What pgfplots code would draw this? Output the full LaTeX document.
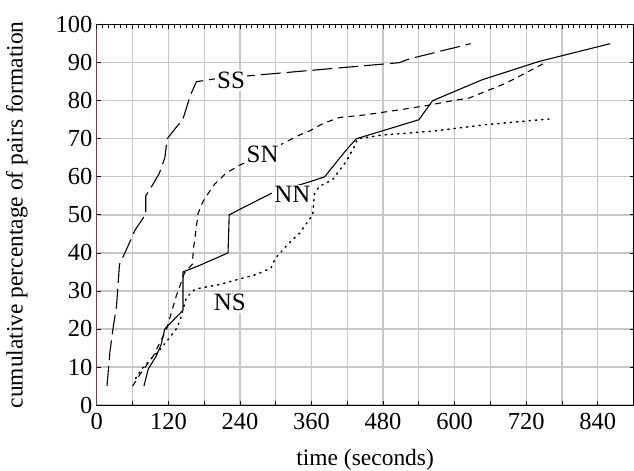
\documentclass[border=0pt]{standalone}
\usepackage{fontspec}
\setmainfont{Liberation Serif}
\usepackage{pgfplots}
\pgfplotsset{compat=1.18}
\usepackage{pgfplotstable}

\pgfplotstableread{
x y
17 5
22 14
27 20
33 26
38 37
50 41
64 46
79 49.5
82 50
82 55
94 58
105 61
114 65
118 70
133 73
144 75
157 81.5
167 85
200 85.8
360 88
507 90
524 91
627 95
}\SS

\pgfplotstableread{
x y
60 5
72 8
95 13
117 20
133 28.6
147 34.7
160 37
162 41
167 47
170 50.5
178 53.5
184 55
197 58
217 61
239 63
278 66
315 69
340 71
356 72
379 74
407 75.6
451 76.3
507 77.6
552 78.7
596 80
624 80.7
686 84.6
752 90
}\SN

\pgfplotstableread{
x y
79 5
86 9.4
100 13
108 16
114 20
143 24.7
144.5 25
144.5 35
172 36.7
220 40
222 50
239 51.4
292 55.6
359 58.8
382 60
418 67
435 70
540 75
563 80
646 85.5
741 90.3
861 95
}\NN

\pgfplotstableread{
x y
65 7
76 9.6
87 11.5
108 15
122 17.7
133 20
139 22
150 28.2
164 30.4
175 30.8
206 31.7
236 33
267 34.3
292 36
300 38.7
320 42.2
340 45.2
354 48.3
362 50
365 55.5
373 57.5
395 59.2
418 64
432 68
437 70
479 71
563 72
652 73.7
758 75.2
}\NS

\begin{document}
\begin{tikzpicture}
\begin{axis}[
  scale only axis,
  width=537.5pt, height=381pt,
  xmin=0, xmax=900, ymin=0, ymax=100,
  xtick={0,60,...,840},
  xticklabels={0,,120,,240,,360,,480,,600,,720,,840},
  ytick={0,10,...,100},
  grid=major,
  major grid style={draw=black!22, line width=1.3pt},
  axis line style={black, line width=1.1pt},
  tick style={black, line width=0.8pt},
  major tick length=4pt,
  tick align=inside,
  /pgf/number format/assume math mode=true,
  tick label style={font=\fontsize{24.5}{26}\selectfont},
  xticklabel style={yshift=-5pt},
  yticklabel style={xshift=-1pt},
  xlabel={time (seconds)},
  ylabel={cumulative percentage of pairs formation},
  every axis x label/.style={at={([yshift=-55pt]axis description cs:0.5,0)}, anchor=center, font=\fontsize{23.5}{25}\selectfont},
  every axis y label/.style={at={([xshift=-80pt]axis description cs:0,0.5)}, anchor=center, rotate=90, font=\fontsize{23.5}{25}\selectfont},
  clip=false,
]
\addplot[black, line width=1.1pt, dash pattern=on 20pt off 6pt] table {\SS};
\addplot[black, line width=1.1pt, dash pattern=on 6pt off 5pt] table {\SN};
\addplot[black, line width=1.1pt] table {\NN};
\addplot[black, line width=1.5pt, dash pattern=on 1.3pt off 5pt, line cap=round] table {\NS};
\node[fill=white, inner sep=2pt, font=\fontsize{25}{27}\selectfont] at (axis cs:225,85.3) {SS};
\node[fill=white, inner sep=2pt, font=\fontsize{25}{27}\selectfont] at (axis cs:278,65.8) {SN};
\node[fill=white, inner sep=2pt, font=\fontsize{25}{27}\selectfont] at (axis cs:328,55.3) {NN};
\node[fill=white, inner sep=2pt, font=\fontsize{25}{27}\selectfont] at (axis cs:223,27) {NS};
\draw[draw={rgb,255:red,150;green,50;blue,50}, line width=1.1pt] (rel axis cs:0,0) -- (rel axis cs:0,1);
\coordinate (sw) at (rel axis cs:0,0);
\coordinate (ne) at (rel axis cs:1,1);
\end{axis}
\begin{axis}[
  scale only axis,
  width=537.5pt, height=381pt,
  xmin=0, xmax=900, ymin=0, ymax=100,
  axis x line*=top, axis y line=none,
  xtick={0,60,...,900}, xticklabels={},
  minor x tick num=5,
  tick align=inside,
  major tick length=4pt, minor tick length=3pt,
  tick style={black, line width=0.8pt},
  axis line style={black, line width=1.1pt},
]
\end{axis}
\pgfresetboundingbox
\path ([shift={(-97pt,-65.3pt)}]sw) rectangle ([shift={(0.5pt,24.7pt)}]ne);
\end{tikzpicture}
\end{document}
